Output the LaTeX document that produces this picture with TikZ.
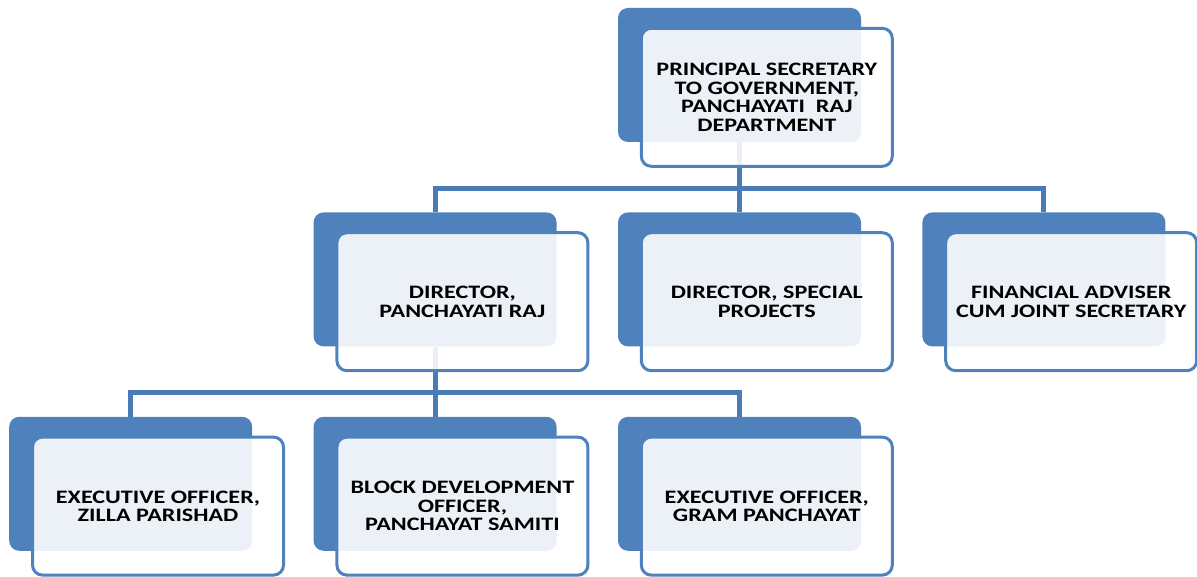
\documentclass[tikz,border=0pt]{standalone}
\usepackage{fontspec}
\setmainfont[FakeStretch=1.27]{Carlito}
\usepackage{xcolor}
\usetikzlibrary{positioning}
\usetikzlibrary{backgrounds}
\definecolor{boxblue}{HTML}{4F81BD}
\definecolor{linkblue}{HTML}{4A7BB7}

\begin{document}
\begin{tikzpicture}[x=1pt, y=-1pt,
		back/.style = {fill=boxblue, rounded corners=10pt, minimum width=243pt, minimum height=134pt},
		front/.style = {draw=boxblue, line width=3pt, fill=white, fill opacity=0.89, text opacity=1, rounded corners=10pt, minimum width=251pt, minimum height=138pt, align=center, font=\bfseries\fontsize{19}{18.4}\selectfont},
		link/.style = {draw=linkblue, line width=5pt}]
		\useasboundingbox (0,0) rectangle (1197,577);
		\node[back] (psb) at (739.5,75) {};
		\node[back] (dspb) [below=70pt of psb] {};
		\node[back] (dprb) [left=61pt of dspb] {};
		\node[back] (fab) [right=61pt of dspb] {};
		\node[back] (bdob) [below=70pt of dprb] {};
		\node[back] (ezpb) [left=61pt of bdob] {};
		\node[back] (egpb) [right=61pt of bdob] {};
		\node[front] (ps) [below right=19pt and 22pt of psb.north west] {PRINCIPAL SECRETARY\\TO GOVERNMENT,\\PANCHAYATI\ \ RAJ\\DEPARTMENT};
		\node[front] (dpr) [below right=19pt and 22pt of dprb.north west] {DIRECTOR,\\PANCHAYATI RAJ};
		\node[front] (dsp) [below right=19pt and 22pt of dspb.north west] {DIRECTOR, SPECIAL\\PROJECTS};
		\node[front] (fa) [below right=19pt and 22pt of fab.north west] {FINANCIAL ADVISER\\CUM JOINT SECRETARY};
		\node[front] (ezp) [below right=19pt and 22pt of ezpb.north west] {EXECUTIVE OFFICER,\\ZILLA PARISHAD};
		\node[front] (bdo) [below right=19pt and 22pt of bdob.north west] {BLOCK DEVELOPMENT\\OFFICER,\\PANCHAYAT SAMITI};
		\node[front] (egp) [below right=19pt and 22pt of egpb.north west] {EXECUTIVE OFFICER,\\GRAM PANCHAYAT};
		\path (psb.south) ++(0,46) coordinate (bus1);
		\path (dprb.south) ++(0,46) coordinate (bus2);
		\begin{scope}[on background layer]
			\draw[link] (psb) -- (dspb);
			\draw[link] (dprb.north) |- (bus1) -| (fab.north);
			\draw[link] (dprb) -- (bdob);
			\draw[link] (ezpb.north) |- (bus2) -| (egpb.north);
		\end{scope}
	\end{tikzpicture}
\end{document}
